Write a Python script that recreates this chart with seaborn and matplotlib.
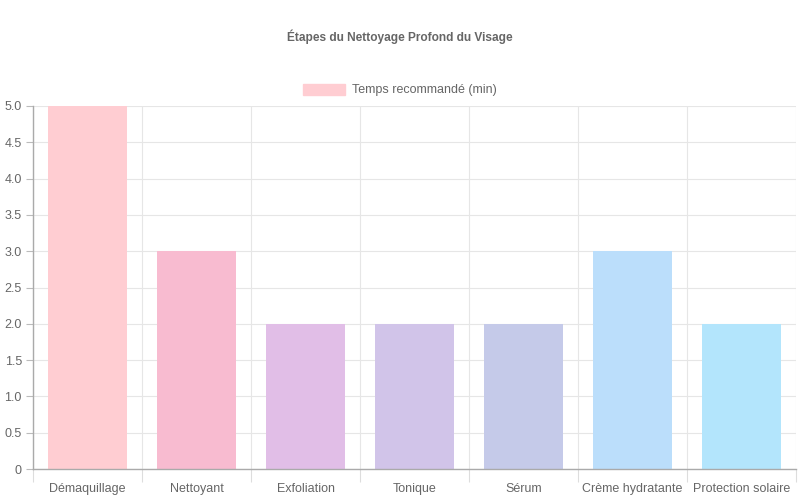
import matplotlib
matplotlib.use("Agg")
import matplotlib.pyplot as plt
from matplotlib.patches import Patch
from matplotlib.ticker import MultipleLocator, FixedLocator
import seaborn as sns
import pandas as pd

# data
etapes = ["Démaquillage", "Nettoyant", "Exfoliation", "Tonique",
          "Sérum", "Crème hydratante", "Protection solaire"]
minutes = [5, 3, 2, 2, 2, 3, 2]
couleurs = ["#FFCDD2", "#F8BBD0", "#E1BEE7", "#D1C4E9",
            "#C5CAE9", "#BBDEFB", "#B3E5FC"]
titre = "Étapes du Nettoyage Profond du Visage"
legende = "Temps recommandé (min)"

df = pd.DataFrame({"etape": etapes, "minutes": minutes})

sns.set_theme(style="white")
plt.rcParams["font.family"] = ["Liberation Sans", "DejaVu Sans"]
grey = "#666666"

fig = plt.figure(figsize=(8, 5), dpi=100)
ax = fig.add_axes([33 / 800, 31 / 500, 763 / 800, 363 / 500])

sns.barplot(data=df, x="etape", y="minutes", hue="etape", palette=couleurs,
            width=0.72, legend=False, ax=ax, saturation=1, linewidth=0)

ax.set_ylim(0, 5)
ax.set_xlim(-0.5, len(etapes) - 0.5)
ax.yaxis.set_major_locator(MultipleLocator(0.5))
ax.set_yticklabels(["0" if v == 0 else f"{v:.1f}" for v in ax.get_yticks()])
ax.xaxis.set_minor_locator(FixedLocator([i - 0.5 for i in range(len(etapes) + 1)]))

ax.grid(True, axis="y", which="major", color="#e6e6e6", linewidth=0.8)
ax.grid(True, axis="x", which="minor", color="#e6e6e6", linewidth=0.8)
ax.set_axisbelow(True)

ax.tick_params(axis="x", which="major", bottom=False, length=0, pad=10,
               labelsize=9, labelcolor=grey)
ax.tick_params(axis="x", which="minor", bottom=True, length=9,
               color="#dddddd", width=0.8)
ax.tick_params(axis="y", length=5, color="#bbbbbb", width=0.8, pad=3,
               labelsize=9, labelcolor=grey, left=True)

for side in ["top", "right"]:
    ax.spines[side].set_visible(False)
for side in ["left", "bottom"]:
    ax.spines[side].set_color("#aaaaaa")
    ax.spines[side].set_linewidth(1)

ax.set_xlabel("")
ax.set_ylabel("")

fig.text(0.5, 1 - 37 / 500, titre, ha="center", va="center",
         fontsize=8.6, fontweight="bold", color=grey)

handle = Patch(facecolor=couleurs[0], edgecolor=couleurs[0])
fig.legend([handle], [legende], loc="center", bbox_to_anchor=(0.5, 1 - 90 / 500),
           frameon=False, fontsize=9, labelcolor=grey,
           handlelength=3.3, handleheight=1.0, handletextpad=0.6)

fig.savefig("out.png", dpi=100, facecolor="white")
